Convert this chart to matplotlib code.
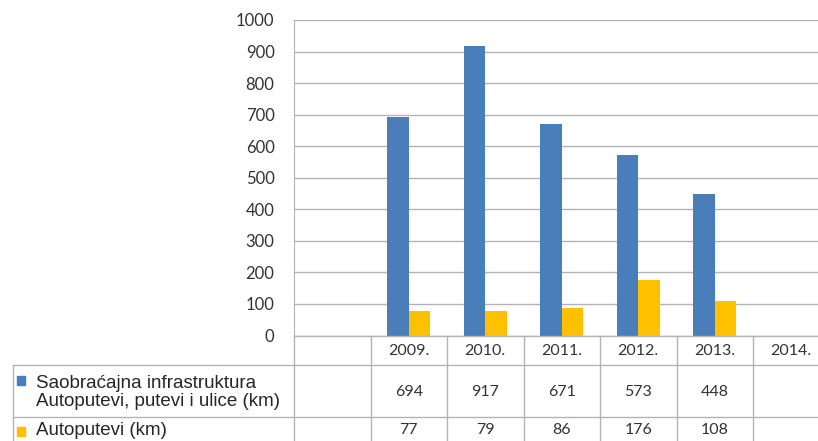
import matplotlib.pyplot as plt
from matplotlib.patches import Rectangle

# data
years = ['', '2009.', '2010.', '2011.', '2012.', '2013.', '2014.']
infrastruktura = [None, 694, 917, 671, 573, 448, None]
autoputevi = [None, 77, 79, 86, 176, 108, None]
series_labels = ['Saobraćajna infrastruktura\nAutoputevi, putevi i ulice (km)',
                 'Autoputevi (km)']
colors = ['#4a7ebb', '#ffc000']
yticks = list(range(0, 1001, 100))

W, H = 818, 441
col = 76.5          # column width in px
x0 = 294            # plot left edge in px
y_axis = 335.5      # px position of the zero line

fig = plt.figure(figsize=(W / 100, H / 100), dpi=100)
ax = fig.add_axes([x0 / W, (H - y_axis) / H, (W - x0) / W, (y_axis - 20) / H])

num_font = 'Lato'
lab_font = 'Liberation Sans'
grid_c = '#b3b3b3'
txt_c = '#333333'

bw = 0.28
idx = list(range(len(years)))
xb = [i - bw / 2 for i in idx if infrastruktura[i] is not None]
xo = [i + bw / 2 for i in idx if autoputevi[i] is not None]
ax.bar(xb, [v for v in infrastruktura if v is not None], width=bw, color=colors[0], zorder=3)
ax.bar(xo, [v for v in autoputevi if v is not None], width=bw, color=colors[1], zorder=3)

ax.set_xlim(-0.5, -0.5 + (W - x0) / col)
ax.set_ylim(0, 1000)
ax.set_yticks(yticks)
ax.set_yticklabels([str(t) for t in yticks], fontsize=12, family=num_font, color=txt_c)
ax.tick_params(axis='y', length=0, pad=14)
ax.set_xticks([])
ax.grid(axis='y', color=grid_c, linewidth=1, zorder=0)
for s in ['top', 'right', 'bottom']:
    ax.spines[s].set_visible(False)
ax.spines['left'].set_color(grid_c)

# data table below the plot
tab = fig.add_axes([0, 0, 1, (H - y_axis) / H])
tab.set_xlim(-0.5 - x0 / col, -0.5 + (W - x0) / col)
tab.set_ylim(H - y_axis, 0)
tab.axis('off')

rows = [0, 29, 81, 107]
left = -0.5 - (x0 - 13) / col
right = len(years) - 0.5
lk = dict(color=grid_c, linewidth=1, clip_on=False)
tab.plot([-0.5, right], [rows[0]] * 2, **lk)
for r in rows[1:]:
    tab.plot([left, right], [r] * 2, **lk)
tab.plot([left, left], [rows[1], rows[3]], **lk)
for i in range(len(years) + 1):
    tab.plot([i - 0.5] * 2, [rows[0], rows[3]], **lk)

for i, yr in enumerate(years):
    tab.text(i, (rows[0] + rows[1]) / 2 + 1, yr, ha='center', va='center',
             fontsize=11.5, family=num_font, color=txt_c)
    if infrastruktura[i] is not None:
        tab.text(i, (rows[1] + rows[2]) / 2 + 2, str(infrastruktura[i]), ha='center',
                 va='center', fontsize=11.5, family=num_font, color=txt_c)
    if autoputevi[i] is not None:
        tab.text(i, (rows[2] + rows[3]) / 2 + 1, str(autoputevi[i]), ha='center',
                 va='center', fontsize=11.5, family=num_font, color=txt_c)

# row labels with legend keys
sq = 8 / col
ys = [(rows[1] + rows[2]) / 2 + 2, (rows[2] + rows[3]) / 2 + 1]
key_y = [rows[1] + 11, rows[2] + 10]
for lbl, c, yy, ky in zip(series_labels, colors, ys, key_y):
    tab.add_patch(Rectangle((left + 4 / col, ky + 9), sq, -9, color=c, clip_on=False))
    tab.text(left + 23 / col, yy, lbl, ha='left', va='center', fontsize=13.5,
             family=lab_font, color='#262626', linespacing=1.0)

fig.savefig('out.png', dpi=100)
